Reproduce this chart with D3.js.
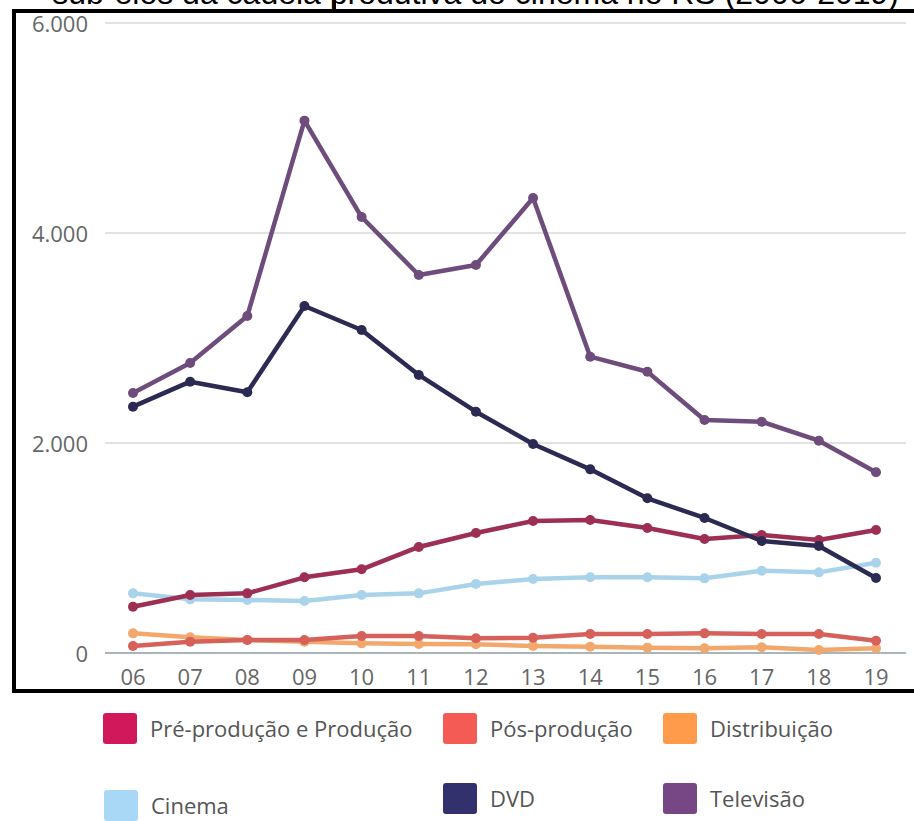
<!DOCTYPE html>
<html>
<head>
<meta charset="utf-8">
<script src="https://cdn.jsdelivr.net/npm/d3@7"></script>
<style>
  body { margin: 0; background: #fff; }
  svg { display: block; }
</style>
</head>
<body>
<div id="chart"></div>
<script>
// Data
const years = ["06","07","08","09","10","11","12","13","14","15","16","17","18","19"];
const preProducao = [441, 552, 568, 721, 797, 1010, 1143, 1257, 1267, 1190, 1086, 1124, 1076, 1171];
const posProducao = [67, 108, 124, 124, 162, 162, 140, 146, 181, 181, 187, 181, 181, 117];
const distribuicao = [187, 149, 124, 108, 92, 86, 83, 67, 60, 51, 45, 54, 29, 45];
const cinema = [568, 511, 505, 495, 552, 568, 657, 705, 721, 721, 711, 784, 768, 860];
const dvd = [2346, 2584, 2483, 3305, 3076, 2648, 2298, 1990, 1749, 1473, 1286, 1067, 1019, 714];
const televisao = [2476, 2762, 3210, 5070, 4152, 3600, 3695, 4333, 2822, 2679, 2219, 2203, 2022, 1721];
const yTicks = [0, 2000, 4000, 6000];
const title = "sub-elos da cadeia produtiva do cinema no RS (2006-2019)";

const series = [
  {name: "Cinema", values: cinema, line: "#a9d3ea", swatch: "#a8d8f5"},
  {name: "Distribuição", values: distribuicao, line: "#f2a86c", swatch: "#ff9b4a"},
  {name: "Pós-produção", values: posProducao, line: "#d6605a", swatch: "#f55b55"},
  {name: "Pré-produção e Produção", values: preProducao, line: "#9c2f52", swatch: "#d0185a"},
  {name: "DVD", values: dvd, line: "#2b2a52", swatch: "#33306e"},
  {name: "Televisão", values: televisao, line: "#6e4c7c", swatch: "#774685"}
];

const width = 914, height = 821;
const svg = d3.select("#chart").append("svg")
  .attr("width", width)
  .attr("height", height);

const x = d3.scalePoint().domain(years).range([133, 876]);
const y = d3.scaleLinear().domain([0, 6000]).range([653, 23]);
const fmt = d3.formatLocale({decimal: ",", thousands: ".", grouping: [3], currency: ["R$", ""]}).format(",");

// title, cropped by the top edge as in the source screenshot
svg.append("text")
  .attr("x", 899).attr("y", 4)
  .attr("text-anchor", "end")
  .attr("font-family", "Liberation Sans, Arial, sans-serif")
  .attr("font-size", 32)
  .attr("fill", "#000")
  .text(title);
svg.append("line")
  .attr("x1", 335).attr("x2", 335).attr("y1", 0).attr("y2", 11)
  .attr("stroke", "#000").attr("stroke-width", 2);

// gridlines
svg.append("g").selectAll("line")
  .data(yTicks.filter(d => d > 0))
  .join("line")
  .attr("x1", 105).attr("x2", 906)
  .attr("y1", d => y(d)).attr("y2", d => y(d))
  .attr("stroke", "#e2e2e2").attr("stroke-width", 2);

svg.append("line")
  .attr("x1", 105).attr("x2", 906)
  .attr("y1", y(0)).attr("y2", y(0))
  .attr("stroke", "#8e9ca3").attr("stroke-width", 1.5);

// y labels
svg.append("g").selectAll("text")
  .data(yTicks)
  .join("text")
  .attr("x", 88).attr("y", d => y(d) + 1)
  .attr("dy", "0.35em")
  .attr("text-anchor", "end")
  .attr("font-family", "Open Sans, sans-serif")
  .attr("font-size", 22)
  .attr("fill", "#666")
  .text(d => fmt(d));

// x labels
svg.append("g").selectAll("text")
  .data(years)
  .join("text")
  .attr("x", d => x(d)).attr("y", 685)
  .attr("text-anchor", "middle")
  .attr("font-family", "Open Sans, sans-serif")
  .attr("font-size", 22)
  .attr("fill", "#666")
  .text(d => d);

const line = d3.line()
  .x((d, i) => x(years[i]))
  .y(d => y(d));

const gs = svg.append("g").selectAll("g")
  .data(series)
  .join("g");

gs.append("path")
  .attr("d", d => line(d.values))
  .attr("fill", "none")
  .attr("stroke", d => d.line)
  .attr("stroke-width", 4.5)
  .attr("stroke-linejoin", "round");

gs.each(function(s) {
  d3.select(this).selectAll("circle")
    .data(s.values)
    .join("circle")
    .attr("cx", (d, i) => x(years[i]))
    .attr("cy", d => y(d))
    .attr("r", 5)
    .attr("fill", s.line);
});

// frame
svg.append("path")
  .attr("d", "M914,11 H14 V691 H914")
  .attr("fill", "none")
  .attr("stroke", "#000")
  .attr("stroke-width", 4);

// legend
const legendPos = {
  "Pré-produção e Produção": [103, 713],
  "Pós-produção": [443, 713],
  "Distribuição": [663, 713],
  "Cinema": [104, 790],
  "DVD": [443, 783],
  "Televisão": [663, 783]
};
const legend = svg.append("g").selectAll("g")
  .data(series)
  .join("g")
  .attr("transform", d => `translate(${legendPos[d.name][0]},${legendPos[d.name][1]})`);

legend.append("rect")
  .attr("width", 34).attr("height", 31)
  .attr("rx", 3)
  .attr("fill", d => d.swatch);

legend.append("text")
  .attr("x", 47).attr("y", 16)
  .attr("dy", "0.35em")
  .attr("font-family", "Open Sans, sans-serif")
  .attr("font-size", 22)
  .attr("fill", "#555")
  .text(d => d.name);
</script>
</body>
</html>
